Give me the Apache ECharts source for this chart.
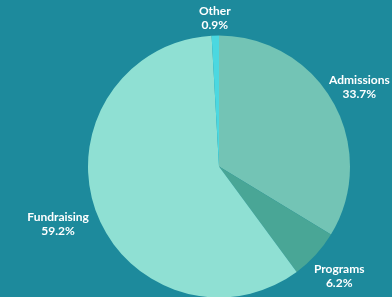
<!DOCTYPE html>
<html>
<head>
<meta charset="utf-8">
<script src="https://cdn.jsdelivr.net/npm/echarts@6/dist/echarts.min.js"></script>
<style>
  html, body { margin: 0; padding: 0; background: #1d8a9c; }
  #main { width: 392px; height: 297px; }
</style>
</head>
<body>
<div id="main"></div>
<script>
  // slice names and shares (%)
  var categories = ['Admissions', 'Programs', 'Fundraising', 'Other']
  var shares = [33.7, 6.2, 59.2, 0.9]

  var colors = ['#73c4b5', '#49a696', '#8fe0d3', '#4bd8e0']
  var lineLen = [30, 32, 40, 17]  // how far each label sits outside the rim

  var chart = echarts.init(document.getElementById('main'))

  chart.setOption({
    backgroundColor: '#1d8a9c',
    animation: false,
    series: [
      {
        type: 'pie',
        center: [219, 166.5],
        radius: 131,
        startAngle: 90,
        clockwise: true,
        avoidLabelOverlap: false,
        label: {
          show: true,
          position: 'outside',
          color: '#ffffff',
          fontFamily: 'Lato',
          fontWeight: 'bold',
          fontSize: 12,
          lineHeight: 14,
          distanceToLabelLine: 0,
          formatter: function (p) {
            return p.name + '\n' + p.value.toFixed(1) + '%'
          }
        },
        labelLine: { show: false, length2: 0 },
        labelLayout: { align: 'center' },
        itemStyle: { borderWidth: 0 },
        data: categories.map(function (c, i) {
          return {
            name: c,
            value: shares[i],
            itemStyle: { color: colors[i] },
            labelLine: { length: lineLen[i], length2: 0 }
          }
        })
      }
    ]
  })
</script>
</body>
</html>
